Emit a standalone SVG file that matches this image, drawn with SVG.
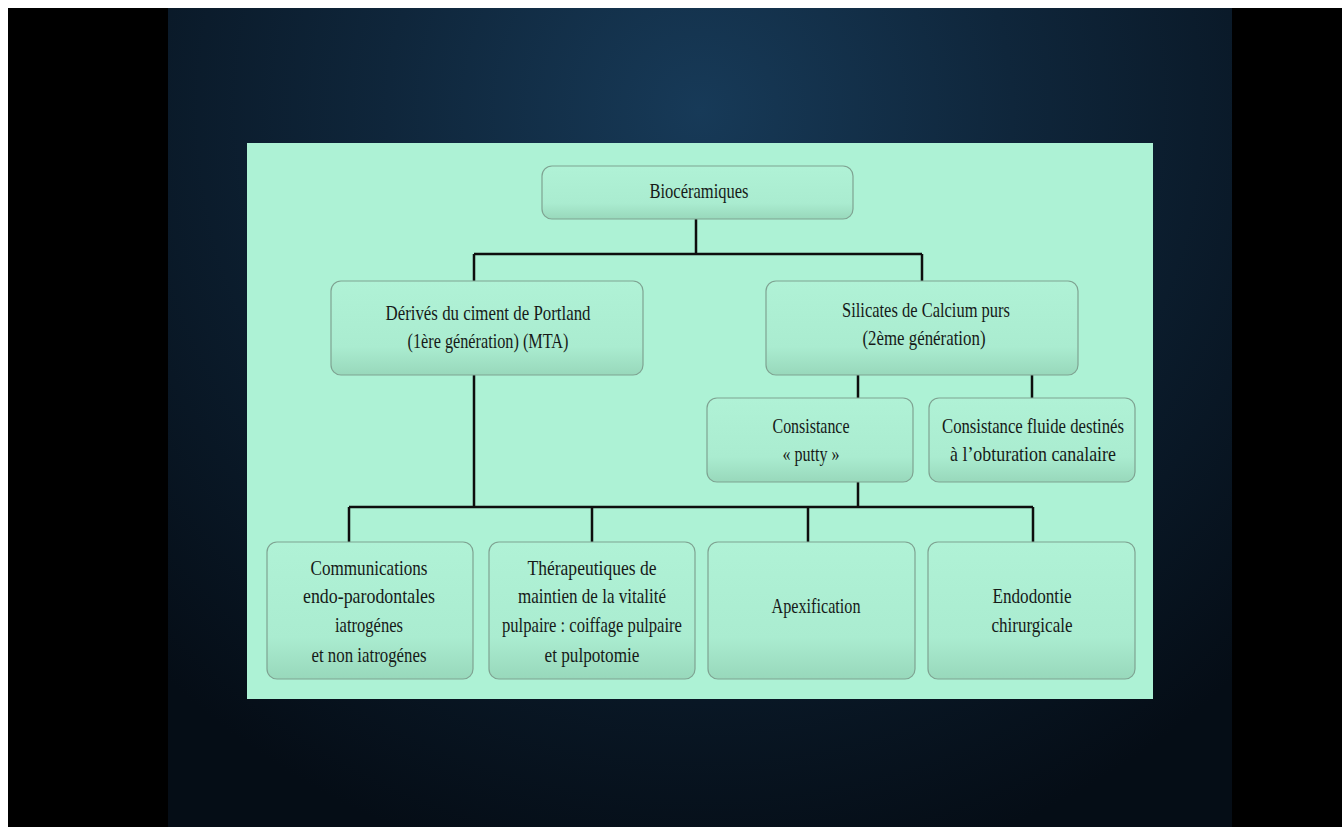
<svg xmlns="http://www.w3.org/2000/svg" width="1342" height="827" viewBox="0 0 1342 827">
<defs>
<radialGradient id="bg" cx="700" cy="110" r="780" gradientUnits="userSpaceOnUse">
<stop offset="0" stop-color="#173a58"/>
<stop offset="0.4" stop-color="#0f263b"/>
<stop offset="1" stop-color="#050d16"/>
</radialGradient>
<linearGradient id="boxg" x1="0" y1="0" x2="0" y2="1">
<stop offset="0" stop-color="#b0f2d6"/>
<stop offset="0.7" stop-color="#aaecd0"/>
<stop offset="1" stop-color="#98d8bb"/>
</linearGradient>
<style>
.box{fill:url(#boxg);stroke:#7fa392;stroke-width:1.2}
.t{font-family:"Liberation Serif","DejaVu Serif",serif;font-size:21px;fill:#161a18;text-anchor:middle}
.c{fill:none;stroke:#0e0e0e;stroke-width:2.5}
</style>
</defs>
<rect x="0" y="0" width="1342" height="827" fill="#ffffff"/>
<rect x="8" y="8" width="1334" height="819" fill="#000000"/>
<rect x="168" y="8" width="1064" height="819" fill="url(#bg)"/>
<rect x="247" y="143" width="906" height="556" fill="#adf2d5"/>

<g id="connectors">
<path class="c" d="M696 219 V254 M474 254 H922 M474 254 V281 M922 254 V281"/>
<path class="c" d="M858 375 V399 M1032 375 V399"/>
<path class="c" d="M474 375 V507 M858 482 V507 M349 507 H1033 M349 507 V542 M592 507 V542 M808 507 V542 M1033 507 V542"/>
</g>

<g id="n-bioceramiques">
<rect class="box" x="542" y="166" width="311" height="53" rx="10"/>
<text class="t" x="699" y="198" textLength="99" lengthAdjust="spacingAndGlyphs">Biocéramiques</text>
</g>

<g id="n-derives">
<rect class="box" x="331" y="281" width="312" height="94" rx="10"/>
<text class="t" x="488" y="320" textLength="205" lengthAdjust="spacingAndGlyphs">Dérivés du ciment de Portland</text>
<text class="t" x="488" y="348" textLength="161" lengthAdjust="spacingAndGlyphs">(1ère génération) (MTA)</text>
</g>

<g id="n-silicates">
<rect class="box" x="766" y="281" width="312" height="94" rx="10"/>
<text class="t" x="926" y="317" textLength="168" lengthAdjust="spacingAndGlyphs">Silicates de Calcium purs</text>
<text class="t" x="924" y="345" textLength="123" lengthAdjust="spacingAndGlyphs">(2ème génération)</text>
</g>

<g id="n-putty">
<rect class="box" x="707" y="398" width="206" height="84" rx="10"/>
<text class="t" x="811" y="433" textLength="77" lengthAdjust="spacingAndGlyphs">Consistance</text>
<text class="t" x="811" y="461" textLength="57" lengthAdjust="spacingAndGlyphs">« putty »</text>
</g>

<g id="n-fluide">
<rect class="box" x="929" y="398" width="206" height="84" rx="10"/>
<text class="t" x="1033" y="433" textLength="182" lengthAdjust="spacingAndGlyphs">Consistance fluide destinés</text>
<text class="t" x="1033" y="461" textLength="166" lengthAdjust="spacingAndGlyphs">à l’obturation canalaire</text>
</g>

<g id="n-communications">
<rect class="box" x="267" y="542" width="206" height="137" rx="10"/>
<text class="t" x="369" y="575" textLength="117" lengthAdjust="spacingAndGlyphs">Communications</text>
<text class="t" x="369" y="603" textLength="132" lengthAdjust="spacingAndGlyphs">endo-parodontales</text>
<text class="t" x="369" y="632" textLength="68" lengthAdjust="spacingAndGlyphs">iatrogénes</text>
<text class="t" x="369" y="662" textLength="115" lengthAdjust="spacingAndGlyphs">et non iatrogénes</text>
</g>

<g id="n-therapeutiques">
<rect class="box" x="489" y="542" width="206" height="137" rx="10"/>
<text class="t" x="592" y="575" textLength="129" lengthAdjust="spacingAndGlyphs">Thérapeutiques de</text>
<text class="t" x="592" y="603" textLength="148" lengthAdjust="spacingAndGlyphs">maintien de la vitalité</text>
<text class="t" x="592" y="632" textLength="180" lengthAdjust="spacingAndGlyphs">pulpaire : coiffage pulpaire</text>
<text class="t" x="592" y="662" textLength="95" lengthAdjust="spacingAndGlyphs">et pulpotomie</text>
</g>

<g id="n-apexification">
<rect class="box" x="708" y="542" width="207" height="137" rx="10"/>
<text class="t" x="816" y="613" textLength="89" lengthAdjust="spacingAndGlyphs">Apexification</text>
</g>

<g id="n-endodontie">
<rect class="box" x="928" y="542" width="207" height="137" rx="10"/>
<text class="t" x="1032" y="603" textLength="79" lengthAdjust="spacingAndGlyphs">Endodontie</text>
<text class="t" x="1032" y="632" textLength="81" lengthAdjust="spacingAndGlyphs">chirurgicale</text>
</g>
</svg>
